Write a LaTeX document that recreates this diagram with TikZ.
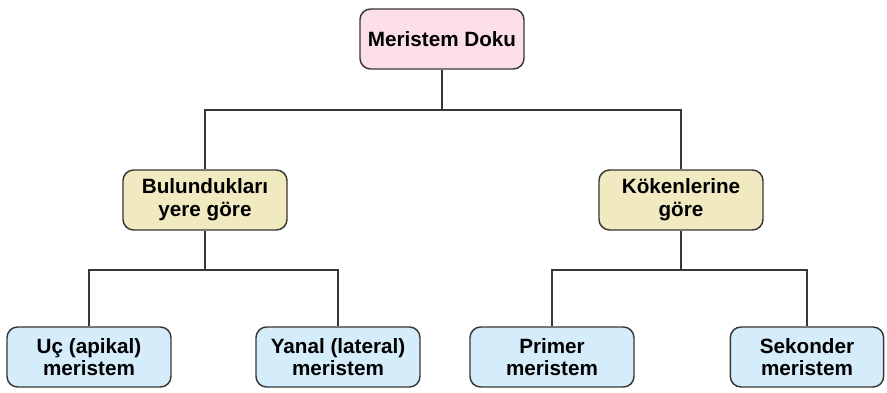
\documentclass[tikz,border=0pt]{standalone}
\usepackage{fontspec}
\setmainfont{Liberation Sans}
\usepackage{tikz}
\usetikzlibrary{calc}

\definecolor{rootpink}{RGB}{251,222,233}
\definecolor{midyellow}{RGB}{241,234,193}
\definecolor{leafblue}{RGB}{213,236,250}
\definecolor{edgegray}{RGB}{55,55,55}

\tikzset{
  box/.style={draw=edgegray, line width=1.1pt, rounded corners=8pt,
    minimum width=123pt, minimum height=45pt, align=center,
    font=\bfseries\fontsize{15.5}{17}\selectfont, inner sep=2pt},
  link/.style={draw=edgegray, line width=1.3pt}
}

\begin{document}
\begin{tikzpicture}[x=0.75pt, y=-0.75pt]
\useasboundingbox (0,0) rectangle (887,392);
\node [box, fill=rootpink] (doku) at (442,39) {Meristem Doku};
\node [box, fill=midyellow] (yer) at (205,200) {Bulundukları\\yere göre};
\node [box, fill=midyellow] (koken) at (681,200) {Kökenlerine\\göre};
\node [box, fill=leafblue] (uc) at (89,357) {Uç (apikal)\\meristem};
\node [box, fill=leafblue] (yanal) at (338,357) {Yanal (lateral)\\meristem};
\node [box, fill=leafblue] (primer) at (552,357) {Primer\\meristem};
\node [box, fill=leafblue, minimum width=115pt] (sekonder) at (807,357) {Sekonder\\meristem};
\coordinate (j1) at (442,110);
\coordinate (j2) at (205,270);
\coordinate (j3) at (681,270);
\draw [link] (doku) -- (j1);
\draw [link] (j1) -| (yer);
\draw [link] (j1) -| (koken);
\draw [link] (yer) -- (j2);
\draw [link] (j2) -| (uc);
\draw [link] (j2) -| (yanal);
\draw [link] (koken) -- (j3);
\draw [link] (j3) -| (primer);
\draw [link] (j3) -| (sekonder);
\end{tikzpicture}
\end{document}
